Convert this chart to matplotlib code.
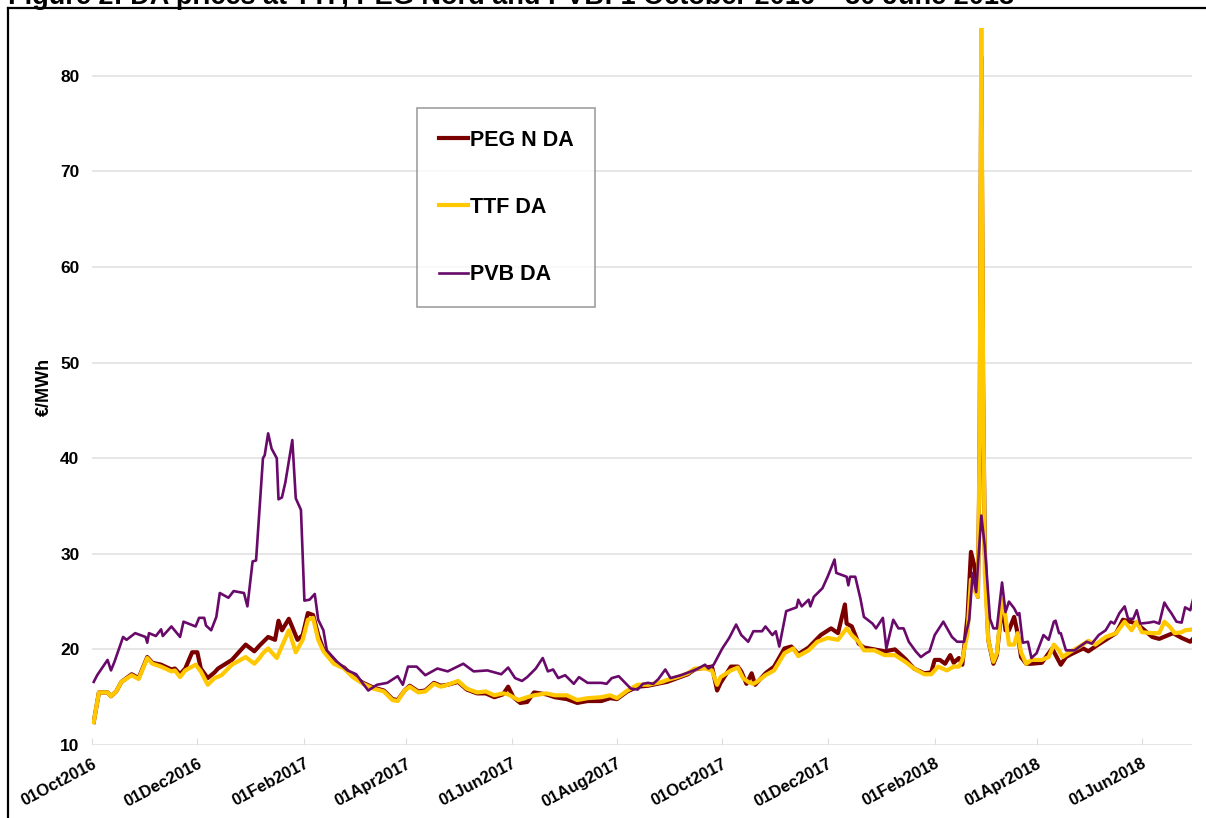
import matplotlib
matplotlib.use("Agg")
import matplotlib.pyplot as plt
from matplotlib.lines import Line2D
import pandas as pd

plt.rcParams['font.family'] = ['Liberation Sans', 'DejaVu Sans']

START = "2016-10-01"

# ---- data: day offset from 1 Oct 2016, price in EUR/MWh ----
pvb_days = [1, 3, 9, 11, 13, 18, 20, 25, 31, 32, 33, 37, 40, 41, 46, 51, 53, 60, 62, 65, 66, 69, 72, 74, 79, 82, 88, 90,
            93, 95, 97, 99, 100, 102, 104, 107, 108, 110, 112, 116, 118, 121, 123, 126, 129, 131, 134, 136, 142, 148,
            153, 157, 160, 165, 171, 177, 180, 183, 188, 193, 200, 206, 215, 221, 229, 237, 241, 245, 249, 252, 257,
            261, 264, 267, 270, 274, 279, 282, 287, 295, 298, 301, 305, 312, 316, 319, 322, 325, 328, 332, 335, 341,
            347, 351, 355, 357, 360, 365, 369, 373, 376, 380, 383, 388, 390, 394, 396, 398, 402, 405, 408, 409, 411,
            415, 416, 418, 423, 426, 430, 431, 434, 437, 438, 439, 442, 445, 447, 452, 454, 458, 460, 464, 467, 470,
            473, 477, 480, 483, 485, 488, 493, 498, 501, 505, 508, 510, 512, 515, 517, 520, 522, 524, 527, 529, 531,
            534, 536, 537, 539, 542, 544, 547, 551, 554, 557, 558, 560, 561, 564, 569, 572, 576, 579, 583, 587, 590,
            592, 595, 598, 600, 603, 605, 607, 612, 615, 618, 621, 623, 625, 628, 631, 633, 636, 638]
pvb_vals = [16.6, 17.3, 18.9, 17.8, 18.7, 21.3, 21.0, 21.7, 21.3, 20.7, 21.7, 21.4, 22.1, 21.4, 22.4, 21.3, 22.9, 22.4,
            23.3, 23.3, 22.5, 22.0, 23.4, 25.9, 25.4, 26.1, 25.9, 24.5, 29.2, 29.3, 34.6, 40.0, 40.3, 42.6, 41.0, 40.0,
            35.7, 35.9, 37.5, 41.9, 35.8, 34.6, 25.1, 25.2, 25.8, 23.1, 22.0, 19.9, 18.7, 17.8, 17.4, 16.4, 15.7, 16.3,
            16.5, 17.2, 16.3, 18.2, 18.2, 17.3, 18.0, 17.7, 18.5, 17.7, 17.8, 17.4, 18.1, 17.0, 16.7, 17.1, 18.0, 19.1,
            17.7, 17.9, 17.0, 17.3, 16.4, 17.1, 16.5, 16.5, 16.4, 17.0, 17.2, 15.9, 15.8, 16.4, 16.5, 16.4, 16.9, 17.9,
            17.0, 17.3, 17.7, 18.0, 18.4, 18.0, 18.4, 20.1, 21.2, 22.6, 21.5, 20.8, 21.9, 21.9, 22.4, 21.5, 21.9, 20.3,
            24.0, 24.2, 24.4, 25.2, 24.5, 25.2, 24.5, 25.5, 26.4, 27.6, 29.4, 28.0, 27.8, 27.6, 26.7, 27.6, 27.6, 25.3,
            23.4, 22.7, 22.2, 23.3, 20.1, 23.1, 22.2, 22.2, 20.8, 19.8, 19.2, 19.6, 19.8, 21.5, 22.9, 21.3, 20.8, 20.8,
            23.1, 28.0, 26.0, 34.0, 30.8, 23.2, 22.2, 22.2, 27.0, 23.9, 25.0, 24.3, 23.6, 23.8, 20.7, 20.8, 19.1, 19.6,
            21.5, 21.0, 22.9, 23.0, 21.7, 21.7, 19.9, 19.9, 20.3, 20.8, 20.6, 21.5, 22.0, 22.9, 22.7, 23.8, 24.5, 23.2,
            23.2, 24.1, 22.7, 22.8, 22.9, 22.7, 24.9, 24.3, 23.8, 22.9, 22.8, 24.4, 24.1, 25.5]

ttf_days = [1, 4, 9, 11, 14, 17, 23, 27, 32, 35, 40, 46, 48, 51, 54, 60, 63, 67, 71, 75, 81, 89, 94, 97, 99, 102, 107,
            114, 118, 122, 125, 128, 131, 134, 140, 146, 151, 157, 163, 169, 174, 177, 181, 184, 189, 193, 198, 202,
            206, 212, 217, 223, 228, 233, 238, 241, 247, 252, 256, 263, 268, 275, 281, 287, 295, 300, 304, 310, 316,
            322, 330, 333, 339, 345, 349, 355, 359, 362, 364, 370, 374, 377, 380, 383, 385, 390, 395, 401, 406, 409,
            415, 420, 426, 432, 437, 440, 444, 447, 453, 459, 465, 471, 476, 482, 486, 490, 495, 499, 502, 504, 507,
            509, 511, 513, 514, 515, 516, 517, 519, 522, 524, 527, 529, 531, 534, 536, 538, 541, 544, 550, 554, 557,
            560, 562, 567, 572, 577, 581, 587, 593, 598, 602, 605, 608, 614, 618, 621, 624, 627, 631, 633, 638]
ttf_vals = [12.4, 15.5, 15.5, 15.1, 15.6, 16.6, 17.3, 16.9, 19.1, 18.5, 18.2, 17.7, 17.8, 17.1, 17.8, 18.4, 17.7, 16.3,
            17.0, 17.3, 18.4, 19.2, 18.5, 19.1, 19.6, 20.1, 19.1, 22.0, 19.7, 21.0, 23.1, 23.3, 21.0, 19.8, 18.5, 18.0,
            17.1, 16.4, 15.9, 15.6, 14.7, 14.6, 15.7, 16.1, 15.5, 15.6, 16.4, 16.1, 16.3, 16.7, 15.9, 15.5, 15.6, 15.2,
            15.4, 15.3, 14.7, 15.0, 15.2, 15.4, 15.2, 15.2, 14.7, 14.9, 15.0, 15.2, 14.9, 15.7, 16.3, 16.3, 16.6, 16.8,
            17.1, 17.5, 18.0, 18.0, 17.8, 16.3, 17.1, 17.8, 18.1, 17.0, 16.6, 16.4, 16.6, 17.3, 17.8, 19.6, 20.1, 19.3,
            19.9, 20.8, 21.2, 21.0, 22.2, 21.5, 20.8, 19.9, 19.9, 19.4, 19.4, 18.7, 18.0, 17.4, 17.4, 18.2, 17.8, 18.2,
            18.2, 18.9, 21.7, 27.3, 26.2, 25.5, 42.0, 85.0, 50.0, 28.0, 21.0, 18.7, 19.6, 25.2, 23.4, 20.5, 20.5, 21.7,
            19.7, 18.5, 18.9, 18.9, 19.2, 20.5, 19.9, 19.2, 19.8, 20.3, 20.9, 20.5, 21.3, 21.7, 22.9, 22.0, 22.9, 21.8,
            21.7, 21.7, 22.9, 22.4, 21.7, 21.8, 22.0, 22.1]

peg_days = [1, 4, 9, 11, 14, 17, 23, 27, 32, 35, 40, 46, 48, 51, 54, 58, 61, 63, 67, 71, 73, 81, 89, 94, 97, 102, 106,
            108, 110, 114, 119, 122, 125, 128, 131, 134, 140, 146, 151, 157, 163, 169, 174, 177, 181, 184, 189, 193,
            198, 202, 206, 212, 217, 223, 228, 233, 238, 241, 244, 248, 252, 256, 263, 268, 275, 281, 287, 295, 300,
            304, 310, 316, 322, 330, 333, 339, 345, 349, 355, 359, 362, 364, 370, 374, 376, 379, 382, 384, 390, 395,
            401, 405, 409, 415, 422, 428, 432, 436, 437, 440, 444, 447, 453, 459, 465, 471, 476, 482, 486, 488, 491,
            494, 497, 499, 502, 504, 507, 509, 511, 513, 514, 515, 516, 517, 519, 522, 524, 527, 529, 531, 534, 536,
            538, 541, 544, 550, 556, 561, 564, 567, 574, 577, 581, 593, 597, 605, 614, 618, 626, 631, 636, 638]
peg_vals = [12.4, 15.5, 15.5, 15.1, 15.6, 16.6, 17.4, 17.0, 19.2, 18.6, 18.4, 17.9, 18.0, 17.4, 18.0, 19.7, 19.7, 18.0,
            17.0, 17.6, 18.0, 18.9, 20.5, 19.8, 20.4, 21.3, 21.0, 23.0, 22.0, 23.2, 21.0, 21.5, 23.8, 23.6, 21.5, 20.0,
            18.6, 18.1, 17.2, 16.5, 16.0, 15.7, 14.8, 14.7, 15.7, 16.2, 15.6, 15.7, 16.5, 16.2, 16.3, 16.6, 15.8, 15.4,
            15.4, 15.0, 15.3, 16.1, 15.0, 14.4, 14.5, 15.5, 15.3, 15.0, 14.8, 14.4, 14.6, 14.6, 14.9, 14.8, 15.6, 16.1,
            16.2, 16.5, 16.6, 17.0, 17.4, 17.9, 18.1, 18.2, 15.7, 16.5, 18.2, 18.2, 17.7, 16.4, 17.5, 16.3, 17.5, 18.2,
            20.1, 20.3, 19.5, 20.2, 21.5, 22.2, 21.7, 24.7, 22.7, 22.4, 20.6, 20.2, 20.0, 19.8, 20.0, 19.0, 18.0, 17.5,
            17.6, 18.9, 18.9, 18.5, 19.4, 18.6, 19.1, 18.4, 23.4, 30.2, 28.7, 25.5, 40.0, 82.0, 48.0, 30.4, 21.0, 18.5,
            19.4, 24.8, 22.0, 22.0, 23.4, 21.7, 19.2, 18.5, 18.5, 18.6, 20.1, 18.4, 19.2, 19.5, 20.1, 19.8, 20.3, 21.7,
            23.1, 22.7, 21.3, 21.1, 21.7, 21.2, 20.8, 21.2]

series_labels = ["PEG N DA", "TTF DA", "PVB DA"]
tick_dates = ["2016-10-01", "2016-12-01", "2017-02-01", "2017-04-01", "2017-06-01", "2017-08-01",
              "2017-10-01", "2017-12-01", "2018-02-01", "2018-04-01", "2018-06-01"]
yticks = [10, 20, 30, 40, 50, 60, 70, 80]
title = "Figure 2: DA prices at TTF, PEG Nord and PVB: 1 October 2016 \u2013 30 June 2018"
ylabel = "\u20ac/MWh"


def to_dates(days):
    return pd.Timestamp(START) + pd.to_timedelta(days, unit="D")


fig = plt.figure(figsize=(12.06, 8.18), dpi=100)
ax = fig.add_axes([92 / 1206, 73 / 818, 1100 / 1206, 717 / 818])

ax.plot(to_dates(peg_days), peg_vals, color="#7a0000", lw=3.0, label=series_labels[0], zorder=3)
ax.plot(to_dates(ttf_days), ttf_vals, color="#ffc800", lw=3.0, label=series_labels[1], zorder=4)
ax.plot(to_dates(pvb_days), pvb_vals, color="#690a6b", lw=1.9, label=series_labels[2], zorder=5)

ax.set_xlim(pd.Timestamp("2016-10-01"), pd.Timestamp("2018-06-30"))
ax.set_ylim(10, 85)
ax.set_yticks(yticks)
ax.set_yticklabels([str(v) for v in yticks], fontsize=12.5, fontweight="bold")
ax.yaxis.grid(True, color="#e6e6e6", lw=1.4)
ax.set_axisbelow(True)
ax.tick_params(axis="y", length=0, pad=9)

tdates = pd.to_datetime(tick_dates)
ax.set_xticks(tdates)
ax.set_xticklabels([d.strftime("%d%b%Y") for d in tdates], fontsize=12, fontweight="bold",
                   rotation=28, ha="right", rotation_mode="anchor")
ax.tick_params(axis="x", direction="in", length=5, color="#dddddd", pad=8)
for s in ax.spines.values():
    s.set_visible(False)

ax.set_ylabel(ylabel, fontsize=13, fontweight="bold", labelpad=5)

leg = ax.legend(loc="upper left", bbox_to_anchor=((417 - 92) / 1100, (745 - 108) / 717),
                borderaxespad=0, prop={"weight": "bold", "size": 15.5},
                labelspacing=2.15, handlelength=1.35, handletextpad=0.1, borderpad=1.0,
                fancybox=False, frameon=True)
leg.get_frame().set_edgecolor("#888888")
leg.get_frame().set_linewidth(1.2)
leg.set_zorder(10)

# outer frame (top and left)
fig.add_artist(Line2D([8 / 1206, 1.0], [1 - 8 / 818, 1 - 8 / 818], color="black", lw=1.6))
fig.add_artist(Line2D([8 / 1206, 8 / 1206], [0, 1 - 8 / 818], color="black", lw=1.6))

fig.text(8 / 1206, 1 - 3.5 / 818, title, fontsize=19.5, fontweight="bold", va="baseline", ha="left")

fig.savefig("out.png", dpi=100)
